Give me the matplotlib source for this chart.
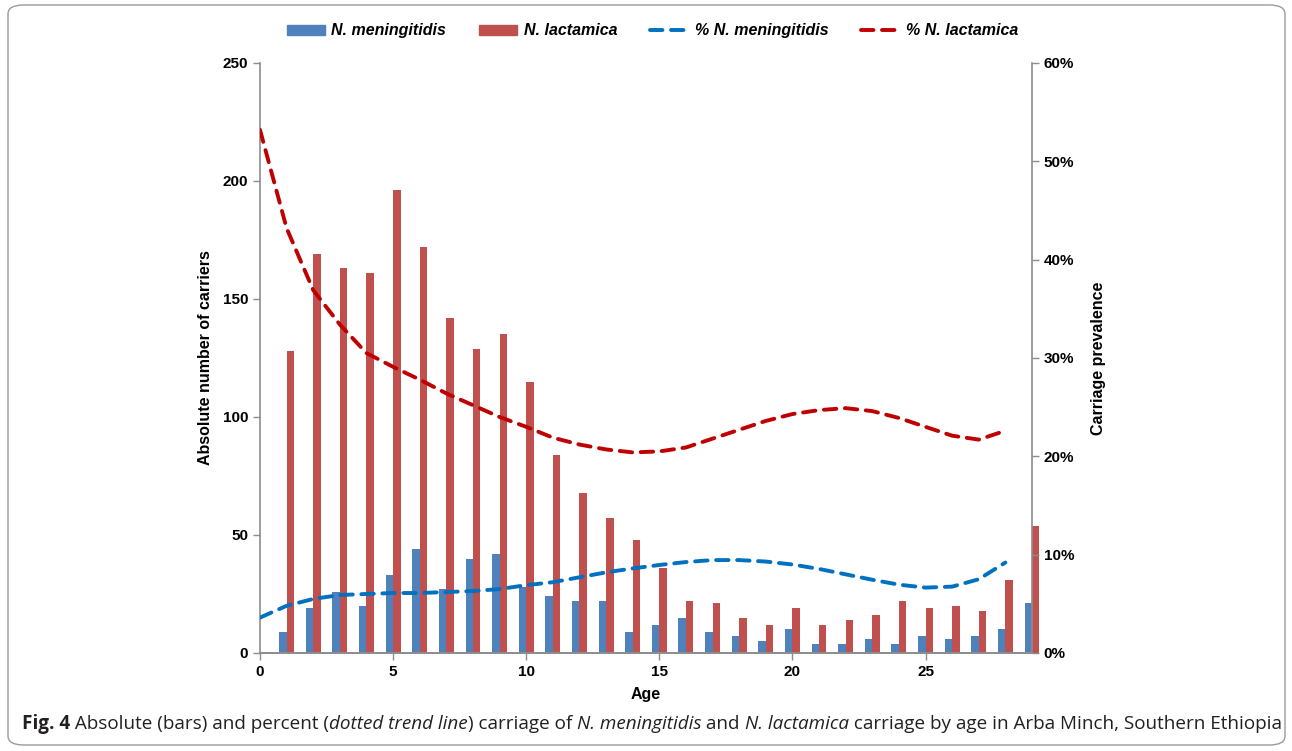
import matplotlib
matplotlib.use('Agg')
import matplotlib.pyplot as plt
from matplotlib.patches import Patch, FancyBboxPatch
from matplotlib.lines import Line2D
from matplotlib.ticker import FuncFormatter

ages = list(range(1, 30))
meningitidis = [9, 19, 26, 20, 33, 44, 27, 40, 42, 28, 24, 22, 22, 9, 12,
                15, 9, 7, 5, 10, 4, 4, 6, 4, 7, 6, 7, 10, 21]
lactamica = [128, 169, 163, 161, 196, 172, 142, 129, 135, 115, 84, 68, 57, 48, 36,
             22, 21, 15, 12, 19, 12, 14, 16, 22, 19, 20, 18, 31, 54]

trend_ages = list(range(0, 29))
pct_meningitidis = [3.6, 4.8, 5.5, 5.9, 6.0, 6.1, 6.1, 6.2, 6.3, 6.5, 6.9, 7.2, 7.7, 8.2, 8.6,
                    8.95, 9.25, 9.45, 9.45, 9.3, 9.0, 8.55, 8.0, 7.45, 6.95, 6.65, 6.75, 7.5, 9.2]
pct_lactamica = [53.2, 43.2, 36.9, 33.4, 30.5, 29.1, 27.8, 26.4, 25.2, 24.0, 23.0, 21.9, 21.2, 20.7, 20.4,
                 20.5, 20.9, 21.8, 22.7, 23.6, 24.3, 24.7, 24.9, 24.6, 23.9, 23.0, 22.1, 21.7, 22.6]

blue_bar = '#4F81BD'
red_bar = '#C0504D'
blue_line = '#0070C0'
red_line = '#C00000'
grey = '#8C8C8C'

plt.rcParams['font.family'] = ['Liberation Sans', 'DejaVu Sans']

fig = plt.figure(figsize=(12.92, 7.51), dpi=100)
ax1 = fig.add_axes([260 / 1292, 1 - 653 / 751, 772 / 1292, 590 / 751])
ax2 = ax1.twinx()

w = 0.28
ax1.bar([a - w / 2 for a in ages], meningitidis, width=w, color=blue_bar, clip_on=False, zorder=2)
ax1.bar([a + w / 2 for a in ages], lactamica, width=w, color=red_bar, clip_on=False, zorder=2)
ax1.set_xlim(0, 29)
ax1.set_ylim(0, 250)
ax1.set_xticks([0, 5, 10, 15, 20, 25])
ax1.set_yticks(range(0, 251, 50))

dash = (0, (3.2, 2.2))
ax2.plot(trend_ages, pct_meningitidis, color=blue_line, lw=2.8, ls=dash, dash_capstyle='round')
ax2.plot(trend_ages, pct_lactamica, color=red_line, lw=2.8, ls=dash, dash_capstyle='round')
ax2.set_ylim(0, 60)
ax2.set_yticks(range(0, 61, 10))
ax2.yaxis.set_major_formatter(FuncFormatter(lambda v, p: '%d%%' % v))

for ax in (ax1, ax2):
    ax.spines['top'].set_visible(False)
    for s in ('left', 'right', 'bottom'):
        ax.spines[s].set_color(grey)
        ax.spines[s].set_linewidth(1.2)
    ax.tick_params(colors=grey, labelcolor='black', length=5, width=1, labelsize=11)
    for lab in ax.get_xticklabels() + ax.get_yticklabels():
        lab.set_fontweight('bold')
ax2.spines['left'].set_visible(False)
ax1.spines['right'].set_visible(False)

ax1.set_xlabel('Age', fontsize=11.5, fontweight='bold', labelpad=6)
ax1.set_ylabel('Absolute number of carriers', fontsize=11.5, fontweight='bold', labelpad=7)
ax2.set_ylabel('Carriage prevalence', fontsize=11.5, fontweight='bold', labelpad=12)

handles = [Patch(color=blue_bar), Patch(color=red_bar),
           Line2D([], [], color=blue_line, lw=2.8, ls=dash, dash_capstyle='round'),
           Line2D([], [], color=red_line, lw=2.8, ls=dash, dash_capstyle='round')]
labels = ['N. meningitidis', 'N. lactamica', '% N. meningitidis', '% N. lactamica']
fig.legend(handles, labels, loc='center', bbox_to_anchor=(0.505, 0.959), ncol=4, frameon=False,
           prop={'weight': 'bold', 'style': 'italic', 'size': 11.5}, handlelength=2.4,
           handleheight=0.6, columnspacing=2.05, handletextpad=0.4)

# rounded frame around the whole figure
fig.patches.append(FancyBboxPatch((8 / 1292, 6 / 751), 1277 / 1292, 740 / 751,
                                  boxstyle='round,pad=0,rounding_size=0.012',
                                  transform=fig.transFigure, fill=False,
                                  edgecolor='#9A9A9A', lw=1.0))

# caption built from pieces
pieces = [('Fig. 4', 'bold', 'normal'),
          (' Absolute (bars) and percent (', 'normal', 'normal'),
          ('dotted trend line', 'normal', 'italic'),
          (') carriage of ', 'normal', 'normal'),
          ('N. meningitidis', 'normal', 'italic'),
          (' and ', 'normal', 'normal'),
          ('N. lactamica', 'normal', 'italic'),
          (' carriage by age in Arba Minch, Southern Ethiopia', 'normal', 'normal')]
renderer = fig.canvas.get_renderer()
size = 13.0
target = 1256
cap_font = ['Liberation Sans Narrow', 'Open Sans', 'DejaVu Sans']
for attempt in range(2):
    x = 22
    texts = []
    for s, wgt, sty in pieces:
        t = fig.text(x / 1292, 1 - 724 / 751, s, fontsize=size, fontweight=wgt, fontstyle=sty,
                     family=cap_font, va='center', ha='left', color='#231F20')
        bb = t.get_window_extent(renderer)
        x += bb.width
        texts.append(t)
    total = x - 22
    if attempt == 0:
        for t in texts:
            t.remove()
        size = size * target / total

fig.savefig('out.png', dpi=100)
